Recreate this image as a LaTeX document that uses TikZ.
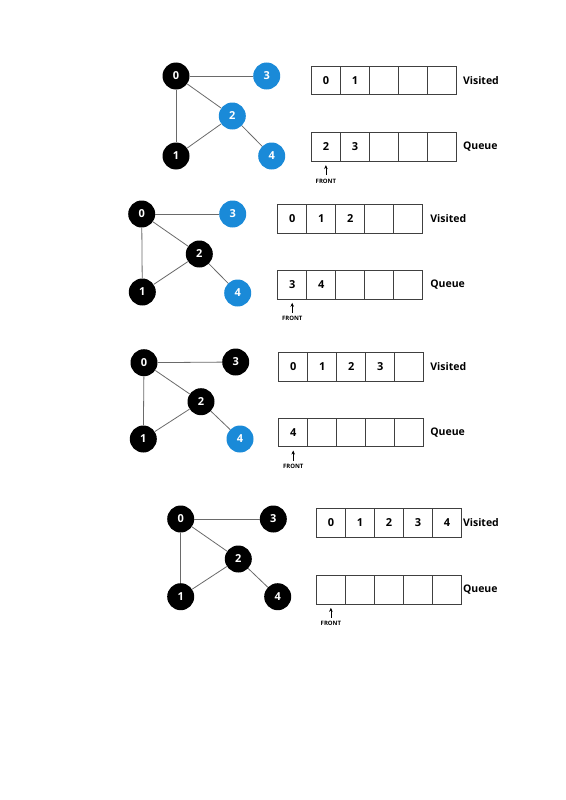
\documentclass[tikz,border=0pt]{standalone}
\usepackage{fontspec}
\setmainfont{Open Sans}
\usetikzlibrary{arrows.meta}
\definecolor{bfsblue}{HTML}{1A8AD8}
\definecolor{edgegray}{HTML}{6A6A6A}
\tikzset{
  vtx/.style={circle, minimum size=27pt, inner sep=0pt, fill=black, text=white,
    font=\fontsize{11}{11}\selectfont\bfseries},
  vblue/.style={vtx, fill=bfsblue},
  edge/.style={draw=edgegray, line width=0.8pt},
  cell/.style={draw=black!75, line width=0.8pt, minimum width=29pt, minimum height=28.5pt,
    inner sep=0pt, anchor=north west, font=\fontsize{11}{11}\selectfont\bfseries},
  lab/.style={anchor=west, inner sep=0pt, font=\fontsize{10.5}{11}\selectfont\bfseries},
  frontlbl/.style={inner sep=0pt, font=\fontsize{6}{6}\selectfont\bfseries},
  frontarrow/.style={draw=black, line width=0.7pt, -{Stealth[length=4pt,width=3.5pt]}},
}
\newcommand\cellrow[4]{%
  \foreach \t [count=\i] in {#4} {
    \node[cell] (#1\i) at ({#2+(\i-1)*29},#3) {\t};
  }%
}
\begin{document}
\begin{tikzpicture}[x=1pt,y=-1pt]
\useasboundingbox (0,0) rectangle (565,800);

% ---------- Panel 1 ----------
\node[vtx]   (a0) at (176,76) {0};
\node[vblue] (a3) at (266.7,76) {3};
\node[vblue] (a2) at (232.3,116) {2};
\node[vtx]   (a1) at (176,156) {1};
\node[vblue] (a4) at (271.7,156) {4};
\begin{scope}[on background layer/.try]
\end{scope}
\draw[edge] (a0) -- (a3);
\draw[edge] (a0) -- (a2);
\draw[edge] (a0) -- (a1);
\draw[edge] (a1) -- (a2);
\draw[edge] (a2) -- (a4);
\cellrow{av}{311}{65.7}{0,1,{},{},{}}
\cellrow{aq}{311}{132.3}{2,3,{},{},{}}
\node[lab] (avl) at ([xshift=6pt]av5.east) {Visited};
\node[lab] (aql) at ([xshift=6pt]aq5.east) {Queue};
\node[frontlbl] (af) at ([yshift=-19.5pt]aq1.south) {FRONT};
\draw[frontarrow] ([yshift=3.5pt]af.north) -- ([yshift=-3.5pt]aq1.south);

% ---------- Panel 2 ----------
\node[vtx]   (b0) at (141.7,214) {0};
\node[vblue] (b3) at (232.7,214) {3};
\node[vtx]   (b2) at (199.3,254) {2};
\node[vtx]   (b1) at (142.3,292) {1};
\node[vblue] (b4) at (237.7,293) {4};
\draw[edge] (b0) -- (b3);
\draw[edge] (b0) -- (b2);
\draw[edge] (b0) -- (b1);
\draw[edge] (b1) -- (b2);
\draw[edge] (b2) -- (b4);
\cellrow{bv}{277.3}{204.3}{0,1,2,{},{}}
\cellrow{bq}{277.3}{270}{3,4,{},{},{}}
\node[lab] (bvl) at ([xshift=7pt]bv5.east) {Visited};
\node[lab] (bql) at ([xshift=7pt]bq5.east) {Queue};
\node[frontlbl] (bf) at ([yshift=-19.5pt]bq1.south) {FRONT};
\draw[frontarrow] ([yshift=3.5pt]bf.north) -- ([yshift=-3.5pt]bq1.south);

% ---------- Panel 3 ----------
\node[vtx]   (c0) at (144,362.7) {0};
\node[vtx]   (c3) at (235.7,362) {3};
\node[vtx]   (c2) at (201,401.7) {2};
\node[vtx]   (c1) at (143.3,439) {1};
\node[vblue] (c4) at (240,439) {4};
\draw[edge] (c0) -- (c3);
\draw[edge] (c0) -- (c2);
\draw[edge] (c0) -- (c1);
\draw[edge] (c1) -- (c2);
\draw[edge] (c2) -- (c4);
\cellrow{cv}{278.3}{352.3}{0,1,2,3,{}}
\cellrow{cq}{278.3}{417.7}{4,{},{},{},{}}
\node[lab] (cvl) at ([xshift=6pt]cv5.east) {Visited};
\node[lab] (cql) at ([xshift=6pt]cq5.east) {Queue};
\node[frontlbl] (cf) at ([yshift=-19.5pt]cq1.south) {FRONT};
\draw[frontarrow] ([yshift=3.5pt]cf.north) -- ([yshift=-3.5pt]cq1.south);

% ---------- Panel 4 ----------
\node[vtx] (d0) at (180.7,519) {0};
\node[vtx] (d3) at (273.3,519) {3};
\node[vtx] (d2) at (238.3,559) {2};
\node[vtx] (d1) at (180.7,596.7) {1};
\node[vtx] (d4) at (277.7,596.7) {4};
\draw[edge] (d0) -- (d3);
\draw[edge] (d0) -- (d2);
\draw[edge] (d0) -- (d1);
\draw[edge] (d1) -- (d2);
\draw[edge] (d2) -- (d4);
\cellrow{dv}{316}{508.3}{0,1,2,3,4}
\cellrow{dq}{316}{575}{{},{},{},{},{}}
\node[lab] (dvl) at ([xshift=1pt]dv5.east) {Visited};
\node[lab] (dql) at ([xshift=1pt]dq5.east) {Queue};
\node[frontlbl] (df) at ([yshift=-19.5pt]dq1.south) {FRONT};
\draw[frontarrow] ([yshift=3.5pt]df.north) -- ([yshift=-3.5pt]dq1.south);
\end{tikzpicture}
\end{document}
